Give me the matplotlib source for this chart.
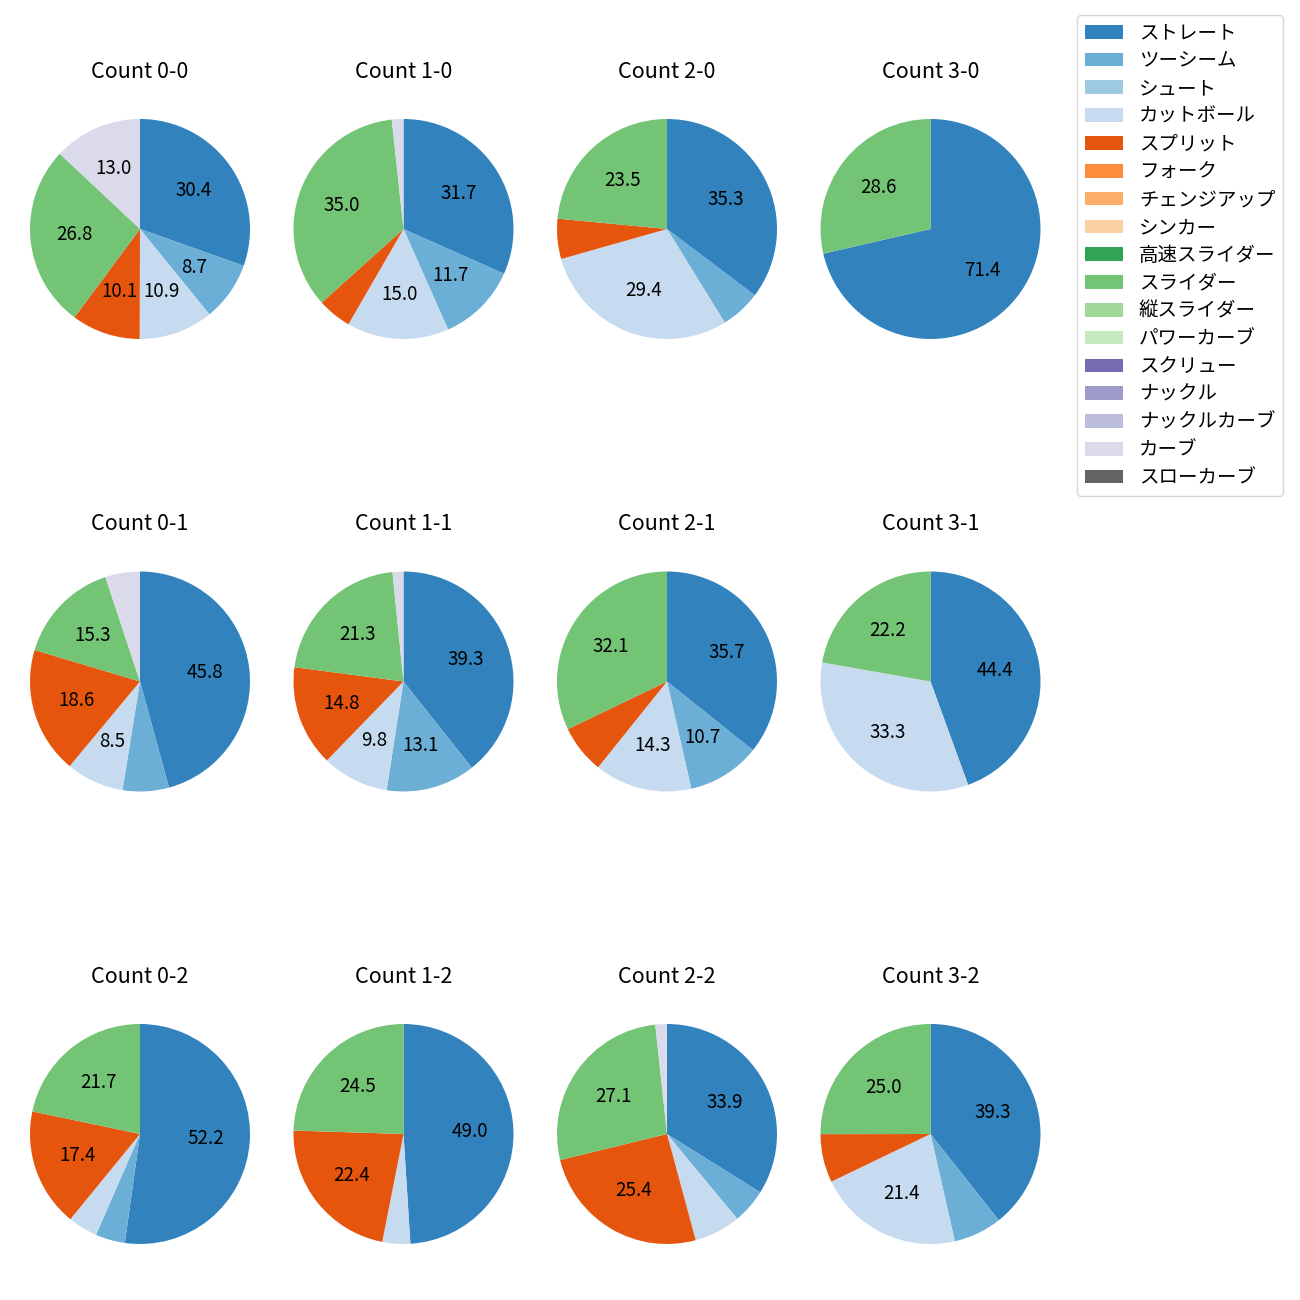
import matplotlib
matplotlib.use("Agg")
import matplotlib.pyplot as plt
from matplotlib.patches import Patch

plt.rcParams['font.family'] = ['Noto Sans CJK JP', 'DejaVu Sans']

pitch_types = ['ストレート', 'ツーシーム', 'シュート', 'カットボール', 'スプリット', 'フォーク',
               'チェンジアップ', 'シンカー', '高速スライダー', 'スライダー', '縦スライダー',
               'パワーカーブ', 'スクリュー', 'ナックル', 'ナックルカーブ', 'カーブ', 'スローカーブ']
pitch_colors = ['#3182bd', '#6baed6', '#9ecae1', '#c6dbef', '#e6550d', '#fd8d3c',
                '#fdae6b', '#fdd0a2', '#31a354', '#74c476', '#a1d99b', '#c7e9c0',
                '#756bb1', '#9e9ac8', '#bcbddc', '#dadaeb', '#636363']

counts = ['0-0', '1-0', '2-0', '3-0',
          '0-1', '1-1', '2-1', '3-1',
          '0-2', '1-2', '2-2', '3-2']

# share (%) per ball-strike count, keyed by pitch type (others zero)
c00 = {'ストレート': 30.4, 'ツーシーム': 8.7, 'カットボール': 10.9, 'スプリット': 10.1, 'スライダー': 26.8, 'カーブ': 13.0}
c10 = {'ストレート': 31.7, 'ツーシーム': 11.7, 'カットボール': 15.0, 'スプリット': 5.0, 'スライダー': 35.0, 'カーブ': 1.7}
c20 = {'ストレート': 35.3, 'ツーシーム': 5.9, 'カットボール': 29.4, 'スプリット': 5.9, 'スライダー': 23.5}
c30 = {'ストレート': 71.4, 'スライダー': 28.6}
c01 = {'ストレート': 45.8, 'ツーシーム': 6.8, 'カットボール': 8.5, 'スプリット': 18.6, 'スライダー': 15.3, 'カーブ': 5.1}
c11 = {'ストレート': 39.3, 'ツーシーム': 13.1, 'カットボール': 9.8, 'スプリット': 14.8, 'スライダー': 21.3, 'カーブ': 1.6}
c21 = {'ストレート': 35.7, 'ツーシーム': 10.7, 'カットボール': 14.3, 'スプリット': 7.1, 'スライダー': 32.1}
c31 = {'ストレート': 44.4, 'カットボール': 33.3, 'スライダー': 22.2}
c02 = {'ストレート': 52.2, 'ツーシーム': 4.35, 'カットボール': 4.35, 'スプリット': 17.4, 'スライダー': 21.7}
c12 = {'ストレート': 49.0, 'カットボール': 4.1, 'スプリット': 22.4, 'スライダー': 24.5}
c22 = {'ストレート': 33.9, 'ツーシーム': 5.1, 'カットボール': 6.8, 'スプリット': 25.4, 'スライダー': 27.1, 'カーブ': 1.7}
c32 = {'ストレート': 39.3, 'ツーシーム': 7.1, 'カットボール': 21.4, 'スプリット': 7.1, 'スライダー': 25.0}

data = [c00, c10, c20, c30, c01, c11, c21, c31, c02, c12, c22, c32]

W = H = 1300
fig = plt.figure(figsize=(13, 13), dpi=100)

ax_px = 275
for i, (cnt, d) in enumerate(zip(counts, data)):
    r, c = divmod(i, 4)
    cx = 140 + 263.5 * c
    cy = 229 + 452.5 * r
    ax = fig.add_axes([(cx - ax_px / 2) / W, 1 - (cy + ax_px / 2) / H, ax_px / W, ax_px / H])
    vals = [d[p] for p in pitch_types if d.get(p, 0) > 0]
    cols = [pitch_colors[j] for j, p in enumerate(pitch_types) if d.get(p, 0) > 0]
    ax.pie(vals, colors=cols, startangle=90, counterclock=False,
           autopct=lambda pct: f'{pct:.1f}' if pct > 8 else '',
           textprops={'fontsize': 13.5})
    ax.set_title(f'Count {cnt}', fontsize=15.5, pad=10)

handles = [Patch(facecolor=col) for col in pitch_colors]
fig.legend(handles, pitch_types, loc='upper left', bbox_to_anchor=(1067 / W, 1 - 5 / H),
           fontsize=14, labelspacing=0.35)

fig.savefig('out.png')
